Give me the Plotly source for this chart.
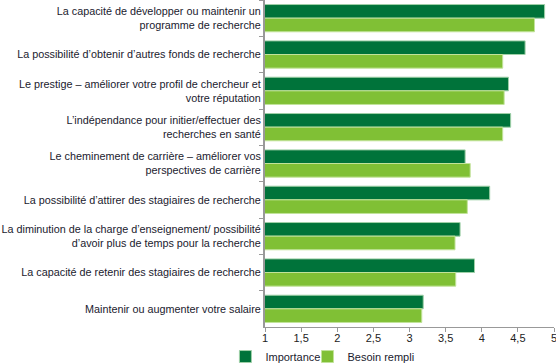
import plotly.graph_objects as go

categories = [
    "La capacité de développer ou maintenir un<br>programme de recherche",
    "La possibilité d’obtenir d’autres fonds de recherche",
    "Le prestige – améliorer votre profil de chercheur et<br>votre réputation",
    "L’indépendance pour initier/effectuer des<br>recherches en santé",
    "Le cheminement de carrière – améliorer vos<br>perspectives de carrière",
    "La possibilité d’attirer des stagiaires de recherche",
    "La diminution de la charge d’enseignement/ possibilité<br>d’avoir plus de temps pour la recherche",
    "La capacité de retenir des stagiaires de recherche",
    "Maintenir ou augmenter votre salaire",
]
importance = [4.87, 4.60, 4.37, 4.40, 3.77, 4.11, 3.70, 3.90, 3.19]
besoin = [4.73, 4.29, 4.31, 4.29, 3.84, 3.80, 3.63, 3.64, 3.17]
x_ticks = [1, 1.5, 2, 2.5, 3, 3.5, 4, 4.5, 5]

fig = go.Figure()
fig.add_trace(go.Bar(y=categories, x=importance, name="Importance", orientation="h",
                     legend="legend",
                     marker=dict(color="#00733A", line=dict(color="#9fd0a8", width=1))))
fig.add_trace(go.Bar(y=categories, x=besoin, name="Besoin rempli", orientation="h",
                     legend="legend2",
                     marker=dict(color="#80C035", line=dict(color="#c2e39a", width=1))))

legend_style = dict(orientation="h", xanchor="left", y=-0.046, yanchor="top",
                    font=dict(size=11, color="#1a1a2e"), bgcolor="rgba(0,0,0,0)")

fig.update_layout(
    width=556, height=363,
    margin=dict(l=265, r=2, t=0, b=36, autoexpand=False),
    barmode="group", bargap=0.25, bargroupgap=0.0,
    plot_bgcolor="white", paper_bgcolor="white",
    font=dict(family="Liberation Sans, Arial", size=10.8, color="#1a1a2e"),
    separators=", ",
    legend=dict(x=-0.137, **legend_style),
    legend2=dict(x=0.147, **legend_style),
    showlegend=True,
)
fig.update_xaxes(range=[1, 5], tickvals=x_ticks, showgrid=False, zeroline=False,
                 showline=True, linecolor="#999999", linewidth=1,
                 ticks="outside", ticklen=4, tickcolor="#999999", automargin=False,
                 ticklabelstandoff=-3, ticklabeloverflow="allow",
                 tickfont=dict(size=11, color="#222222"))
fig.update_yaxes(autorange="reversed", showgrid=False, showline=True, linecolor="#999999",
                 linewidth=2, ticks="outside", ticklen=4, tickcolor="#999999",
                 tickson="boundaries", automargin=False,
                 tickfont=dict(size=10.8, color="#1a1a2e"))

fig.write_html("out.html", config={"displayModeBar": False},
               post_script="document.body.style.margin='0';document.body.style.overflow='hidden';")
